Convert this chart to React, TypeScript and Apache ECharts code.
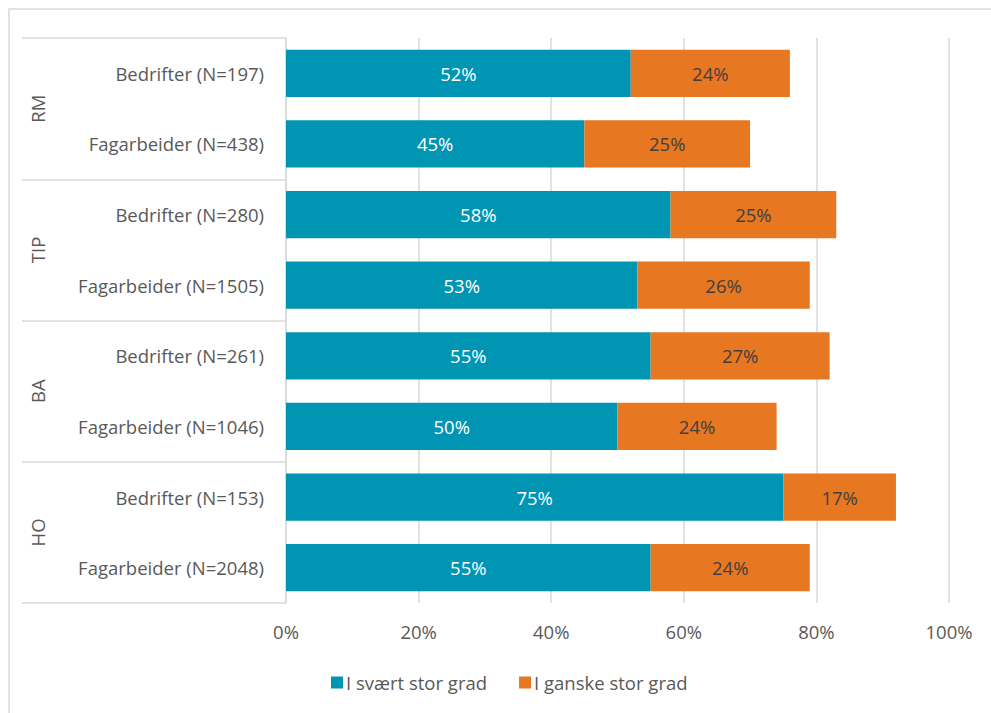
import React, { useEffect, useRef } from "react";
import * as echarts from "echarts";

const groups = ["RM", "TIP", "BA", "HO"];
const categories = [
  "Bedrifter (N=197)",
  "Fagarbeider (N=438)",
  "Bedrifter (N=280)",
  "Fagarbeider (N=1505)",
  "Bedrifter (N=261)",
  "Fagarbeider (N=1046)",
  "Bedrifter (N=153)",
  "Fagarbeider (N=2048)",
];
const seriesNames = ["I svært stor grad", "I ganske stor grad"];
const svaertStor = [52, 45, 58, 53, 55, 50, 75, 55];
const ganskeStor = [24, 25, 25, 26, 27, 24, 17, 24];
const xTicks = [0, 20, 40, 60, 80, 100];

const FONT = "Open Sans";
const FS = 18.5;
const TEAL = "#0095B3";
const ORANGE = "#E87722";
const GRID_LINE = "#D9D9D9";
const TEXT = "#595959";

export default function App() {
  const ref = useRef<HTMLDivElement>(null);
  useEffect(() => {
    if (!ref.current) return;
    const chart = echarts.init(ref.current, undefined, { renderer: "svg" });
    chart.setOption({
      animation: false,
      backgroundColor: "#fff",
      textStyle: { fontFamily: FONT },
      grid: { left: 286, right: 42, top: 38, bottom: 110, containLabel: false },
      xAxis: {
        type: "value",
        min: xTicks[0],
        max: xTicks[xTicks.length - 1],
        interval: 20,
        axisLine: { show: false },
        axisTick: { show: false },
        splitLine: { show: true, lineStyle: { color: GRID_LINE, width: 1.5 } },
        axisLabel: {
          formatter: (v: number) => v + "%",
          color: TEXT,
          fontSize: FS,
          fontFamily: FONT,
          margin: 19,
        },
      },
      yAxis: [
        {
          type: "category",
          data: categories,
          inverse: true,
          axisLine: { show: true, lineStyle: { color: GRID_LINE, width: 1.5 } },
          axisTick: { show: false },
          axisLabel: { color: TEXT, fontSize: FS, fontFamily: FONT, margin: 22 },
        },
        {
          type: "category",
          data: groups,
          inverse: true,
          position: "left",
          axisLine: { show: false },
          axisTick: {
            show: true,
            length: 264,
            lineStyle: { color: GRID_LINE, width: 1.5 },
          },
          axisLabel: {
            color: TEXT,
            fontSize: FS,
            fontFamily: FONT,
            rotate: 90,
            margin: 239,
          },
        },
      ],
      legend: {
        bottom: 16,
        left: 326,
        itemWidth: 12,
        itemHeight: 12,
        itemGap: 32,
        icon: "rect",
        textStyle: { color: TEXT, fontSize: FS, fontFamily: FONT, padding: [0, 0, 0, -2] },
        data: seriesNames,
      },
      series: [
        {
          name: seriesNames[0],
          type: "bar",
          stack: "total",
          yAxisIndex: 0,
          barCategoryGap: "33%",
          data: svaertStor,
          itemStyle: { color: TEAL },
          label: {
            show: true,
            position: "inside",
            formatter: "{c}%",
            color: "#fff",
            fontSize: FS,
            fontFamily: FONT,
          },
        },
        {
          name: seriesNames[1],
          type: "bar",
          stack: "total",
          yAxisIndex: 0,
          data: ganskeStor,
          itemStyle: { color: ORANGE },
          label: {
            show: true,
            position: "inside",
            formatter: "{c}%",
            color: "#404040",
            fontSize: FS,
            fontFamily: FONT,
          },
        },
      ],
      graphic: [
        {
          type: "rect",
          shape: { x: 9, y: 9, width: 1100, height: 1100 },
          style: { fill: "none", stroke: GRID_LINE, lineWidth: 1.5 },
          silent: true,
        },
      ],
    });
    return () => chart.dispose();
  }, []);
  return (
    <div
      ref={ref}
      style={{ position: "fixed", left: 0, top: 0, width: 991, height: 713 }}
    />
  );
}
